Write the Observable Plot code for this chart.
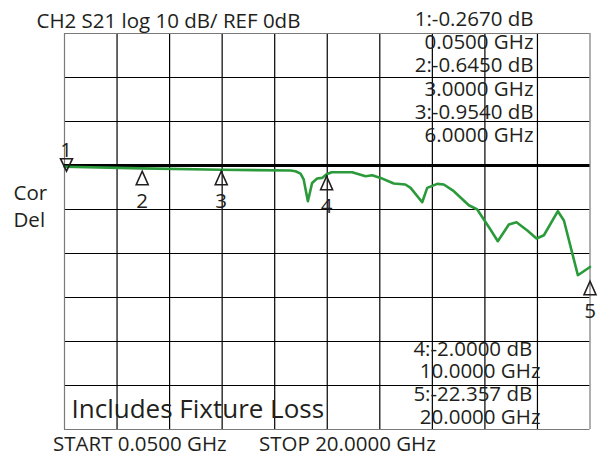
<!DOCTYPE html>
<html><head><meta charset="utf-8">
<script src="https://cdn.jsdelivr.net/npm/d3@7"></script>
<script src="https://cdn.jsdelivr.net/npm/@observablehq/plot@0.6"></script>
<style>body{margin:0;background:#fff} svg{display:block}</style>
</head><body><div id="chart"></div>
<script>
// ---- data ----
const freqGHz = [0.05, 3.0, 6.0, 8.63, 8.82, 9.01, 9.13, 9.29, 9.45, 9.64, 9.83, 10.0, 10.19, 10.52, 10.97, 11.48, 11.73, 12.05, 12.55, 12.99, 13.19, 13.63, 13.82, 14.2, 14.45, 14.83, 15.4, 15.72, 16.22, 16.5, 16.92, 17.21, 17.62, 17.97, 18.25, 18.78, 19.01, 19.54, 20.0];
const s21dB   = [-0.267, -0.645, -0.954, -1.14, -1.30, -1.86, -3.18, -8.12, -3.96, -2.96, -2.82, -2.0, -1.52, -1.52, -1.52, -2.43, -2.21, -2.82, -4.09, -4.32, -5.09, -8.35, -5.09, -4.18, -4.32, -5.84, -9.03, -10.0, -14.56, -17.2, -13.42, -12.9, -14.78, -16.6, -15.85, -10.39, -12.51, -24.95, -23.06];
const startGHz = 0.05, stopGHz = 20;
const dbTop = 30, dbBottom = -60, dbPerDiv = 10, refDb = 0;
const markerIds = ["1", "2", "3", "4", "5"];
const markerFreqGHz = [0.05, 3, 6, 10, 20];
const markerGlyphDb = [-1.3, -1.3, -1.3, -2.45, -26.3];
const titleText = "CH2 S21 log 10 dB/ REF 0dB";
const readoutTop = ["1:-0.2670 dB", "0.0500 GHz", "2:-0.6450 dB", "3.0000 GHz", "3:-0.9540 dB", "6.0000 GHz"];
const readoutBottom = ["4:-2.0000 dB", "10.0000 GHz", "5:-22.357 dB", "20.0000 GHz"];
const sideLabels = ["Cor", "Del"];
const noteText = "Includes Fixture Loss";
const startText = "START 0.0500 GHz";
const stopText = "STOP 20.0000 GHz";

// ---- build ----
const trace = freqGHz.map((f, i) => ({f, db: s21dB[i]}));
const markers = markerIds.map((id, i) => ({id, f: markerFreqGHz[i], db: markerGlyphDb[i]}));
const vLines = d3.range(11).map(i => startGHz + i * (stopGHz - startGHz) / 10);
const hLines = d3.range(dbBottom, dbTop + 1, dbPerDiv);
const ink = "#231f20";
const up = {draw(c) { c.moveTo(0, 0); c.lineTo(-6, 13.5); c.lineTo(6, 13.5); c.closePath(); }};
const down = {draw(c) { c.moveTo(0, 0); c.lineTo(-6, -12.5); c.lineTo(6, -12.5); c.closePath(); }};
const label = (str, X, Y, anchor = "start", size = 20.5) =>
  Plot.text([str], {text: d => d, frameAnchor: "top-left", dx: X, dy: Y, textAnchor: anchor, lineAnchor: "bottom", fontSize: size, fill: ink});

const chart = Plot.plot({
  width: 599, height: 456,
  margin: 0,
  style: {fontFamily: "'Open Sans', sans-serif", background: "#fff"},
  x: {type: "linear", domain: [startGHz, stopGHz], range: [64, 589.5], axis: null},
  y: {type: "linear", domain: [dbBottom, dbTop], range: [429, 33], axis: null},
  marks: [
    Plot.ruleX(vLines.slice(1, -1), {y1: dbBottom, y2: dbTop, stroke: "#000", strokeWidth: 1.2}),
    Plot.ruleY(hLines.slice(1, -1).filter(d => d !== refDb), {x1: startGHz, x2: stopGHz, stroke: "#000", strokeWidth: 1.2}),
    Plot.ruleX([startGHz, stopGHz], {y1: dbBottom, y2: dbTop, stroke: "#7a7a7a", strokeWidth: 1.2}),
    Plot.ruleY([dbBottom, dbTop], {x1: startGHz, x2: stopGHz, stroke: "#7a7a7a", strokeWidth: 1.2}),
    Plot.ruleY([refDb], {x1: startGHz, x2: stopGHz, stroke: "#000", strokeWidth: 3}),
    Plot.line(trace, {x: "f", y: "db", stroke: "#2a9a3a", strokeWidth: 2.6, strokeLinejoin: "round"}),
    Plot.dot(markers.slice(1), {x: "f", y: "db", symbol: up, r: 5, fill: "none", stroke: ink, strokeWidth: 1.6}),
    Plot.dot(markers.slice(0, 1), {x: "f", y: "db", symbol: down, r: 5, fill: "none", stroke: ink, strokeWidth: 1.6, dx: 2}),
    Plot.text(markers.slice(1), {x: "f", y: "db", text: "id", dy: 37, lineAnchor: "bottom", fontSize: 20.5, fill: ink}),
    Plot.text(markers.slice(0, 1), {x: "f", y: "db", text: "id", dy: -14, dx: 1.5, lineAnchor: "bottom", fontSize: 20.5, fill: ink}),
    label(titleText, 36, 27),
    ...readoutTop.map((s, i) => label(s, 533, 25 + i * 23.35, "end")),
    label(readoutBottom[0], 531.7, 355, "end"),
    label(readoutBottom[1], 540, 377, "end"),
    label(readoutBottom[2], 531.7, 400, "end"),
    label(readoutBottom[3], 540, 423, "end"),
    label(sideLabels[0], 13, 199),
    label(sideLabels[1], 13, 226),
    label(noteText, 71, 417, "start", 26),
    label(startText, 52.5, 450),
    label(stopText, 258.5, 450)
  ]
});
document.getElementById("chart").append(chart);
</script>
</body></html>
